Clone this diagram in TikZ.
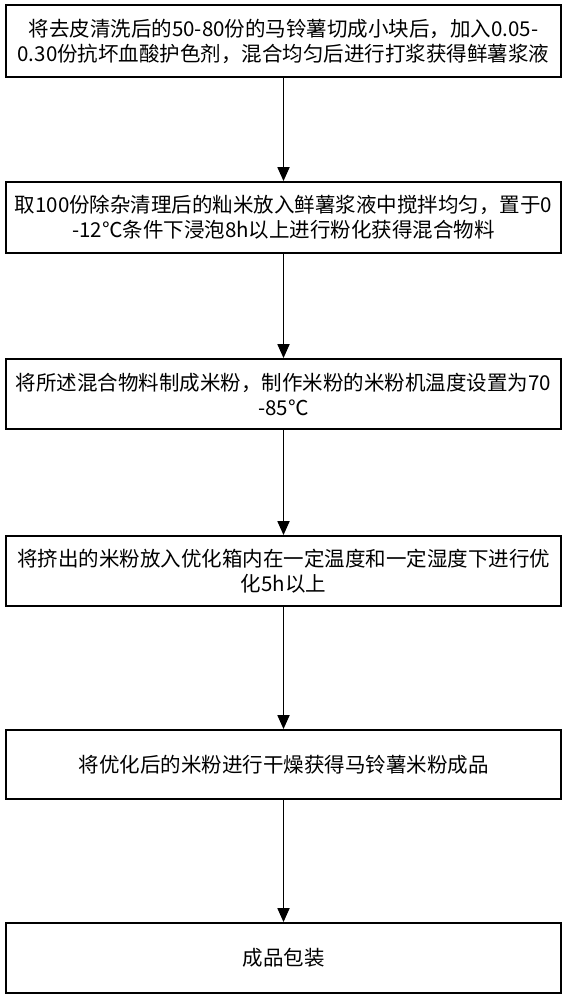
\documentclass[tikz,border=0pt]{standalone}
\usepackage{fontspec}
\setmainfont{Noto Sans CJK SC}
\usetikzlibrary{arrows.meta}
\begin{document}
\begin{tikzpicture}[x=1pt,y=-1pt,
  stepbox/.style={draw=black, line width=1.8pt, minimum width=555pt, inner sep=2pt,
    align=center, font=\fontsize{20.5pt}{25pt}\selectfont, text=black},
  flow/.style={line width=1.8pt, -{Triangle[width=12pt,length=14pt]}}]
\useasboundingbox (0,0) rectangle (569,1000);
\fill[white] (0,0) rectangle (569,1000);
\node[stepbox, minimum height=72pt] (b1) at (283.5,41) {将去皮清洗后的50-80份的马铃薯切成小块后，加入0.05-\\0.30份抗坏血酸护色剂，混合均匀后进行打浆获得鲜薯浆液};
\node[stepbox, minimum height=71pt] (b2) at (283.5,217.5) {取100份除杂清理后的籼米放入鲜薯浆液中搅拌均匀，置于0\\-12℃条件下浸泡8h以上进行粉化获得混合物料};
\node[stepbox, minimum height=70pt] (b3) at (283.5,394) {将所述混合物料制成米粉，制作米粉的米粉机温度设置为70\\-85℃};
\node[stepbox, minimum height=70pt] (b4) at (283.5,571) {将挤出的米粉放入优化箱内在一定温度和一定湿度下进行优\\化5h以上};
\node[stepbox, minimum height=69pt] (b5) at (283.5,764.5) {将优化后的米粉进行干燥获得马铃薯米粉成品};
\node[stepbox, minimum height=70pt] (b6) at (283.5,958) {成品包装};
\draw[flow] (b1) -- (b2);
\draw[flow] (b2) -- (b3);
\draw[flow] (b3) -- (b4);
\draw[flow] (b4) -- (b5);
\draw[flow] (b5) -- (b6);
\end{tikzpicture}
\end{document}
